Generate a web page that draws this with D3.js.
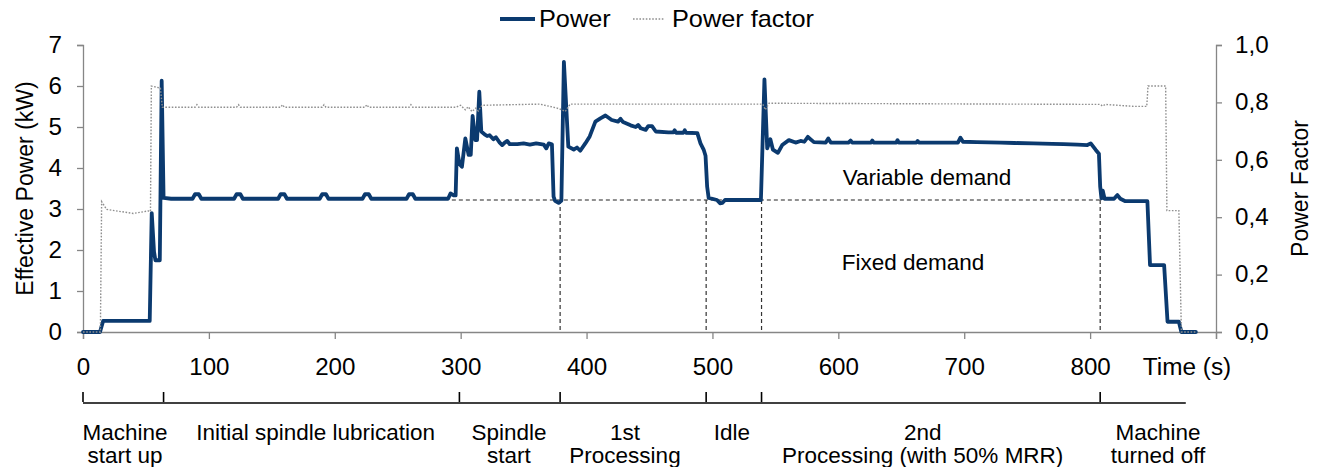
<!DOCTYPE html>
<html>
<head>
<meta charset="utf-8">
<script src="https://cdn.jsdelivr.net/npm/d3@7"></script>
<style>
  body { margin: 0; background: #fff; }
  svg text { font-family: "Liberation Sans", Arial, sans-serif; fill: #000; }
</style>
</head>
<body>
<svg id="chart"></svg>
<script>
const powerColor = '#0b3a6f'; // effective power line
const pfColor = '#8f8f8f';    // power factor, dotted
const axisColor = '#868686';

// effective power (kW), time in seconds
const powerTime = [0, 13.5, 16, 53, 54.6, 56.4, 57.5, 61, 62.5, 64, 70, 87, 89, 92, 94, 120, 122, 125, 127,
  155, 157, 160, 162, 188, 190, 193, 195, 222, 224, 227, 229, 257, 259, 262, 264, 290, 292, 294.5, 296,
  297, 299, 301, 303.7, 306.3, 308, 309.5, 311.6, 313, 314.8, 316.4, 319, 321, 323, 326, 328, 331, 333,
  335, 337, 339, 345, 350, 355, 360, 366, 368, 370, 372.5, 373.8, 375, 377.8, 380, 382, 385.5, 389.8,
  392.4, 395, 399, 402.5, 407, 411, 415, 420, 425, 427, 429, 435, 439, 441, 443, 447, 449, 452, 455,
  465, 469, 470, 471, 477, 478, 479, 488, 490.5, 493, 494.5, 495.8, 497, 503.6, 506, 508, 510, 538.5,
  541.3, 543.5, 546, 548, 552, 555.4, 560.7, 566, 570, 573, 575.8, 578, 580.6, 590, 592, 594, 608,
  609.7, 611, 626, 627, 628, 646, 647, 648, 662, 663, 664, 680, 695, 697, 699, 710, 729, 740, 755, 770,
  779, 790, 797.8, 800.5, 804.5, 807, 808, 809, 810, 811.5, 819, 821.7, 824, 828, 845.5, 847.6, 858.8,
  861.5, 870.5, 872.5, 884];
const powerKW = [0, 0, 0.27, 0.27, 2.9, 1.96, 1.75, 1.75, 6.13, 3.27, 3.25, 3.25, 3.36, 3.36, 3.25, 3.25, 3.36, 3.36, 3.25,
  3.25, 3.36, 3.36, 3.25, 3.25, 3.36, 3.36, 3.25, 3.25, 3.36, 3.36, 3.25, 3.25, 3.36, 3.36, 3.25, 3.25, 3.38, 3.33, 3.33,
  4.48, 4.1, 4.03, 4.72, 4.32, 4.32, 5.27, 4.68, 4.68, 5.86, 4.89, 4.82, 4.78, 4.8, 4.7, 4.75, 4.62, 4.56,
  4.62, 4.66, 4.58, 4.58, 4.6, 4.57, 4.6, 4.57, 4.48, 4.6, 4.58, 3.3, 3.2, 3.15, 3.2, 6.59, 4.52, 4.45,
  4.5, 4.42, 4.6, 4.77, 5.13, 5.21, 5.28, 5.17, 5.13, 5.2, 5.12, 5.04, 5.0, 5.05, 4.97, 4.93, 5.02, 5.02, 4.89,
  4.87, 4.87, 4.92, 4.86, 4.86, 4.92, 4.86, 4.85, 4.6, 4.45, 4.3, 3.54, 3.27, 3.22, 3.14, 3.15, 3.22, 3.22,
  6.16, 4.48, 4.7, 4.45, 4.37, 4.56, 4.68, 4.62, 4.66, 4.64, 4.76, 4.7, 4.63, 4.62, 4.72, 4.62, 4.62,
  4.67, 4.62, 4.62, 4.67, 4.62, 4.62, 4.68, 4.62, 4.62, 4.66, 4.62, 4.62, 4.62, 4.74, 4.64, 4.63, 4.62, 4.61, 4.6, 4.59,
  4.58, 4.57, 4.56, 4.6, 4.44, 4.35, 3.55, 3.26, 3.45, 3.25, 3.25, 3.34, 3.25, 3.19, 3.19, 1.63, 1.63,
  0.25, 0.25, 0, 0];

// power factor
const pfTime = [0, 13.8, 14.8, 18.8, 40, 52, 53.6, 54.3, 61.5, 63, 89, 90.5, 92, 122, 123.5, 125, 157, 158.5, 160,
  190, 191.5, 193, 224, 225.5, 227, 259, 260.5, 262, 296, 300, 303.7, 306, 309, 312, 314, 317, 363, 376.6,
  380, 383, 387, 540, 542, 545, 808, 810, 812, 835, 845, 846, 860, 861, 870.5, 872.5, 884];
const pfValue = [0, 0, 0.454, 0.427, 0.413, 0.422, 0.42, 0.857, 0.85, 0.783, 0.783, 0.792, 0.783, 0.783, 0.792, 0.783, 0.783, 0.792, 0.783,
  0.783, 0.792, 0.783, 0.783, 0.792, 0.783, 0.783, 0.792, 0.783, 0.783, 0.79, 0.774, 0.785, 0.768, 0.78, 0.77, 0.79, 0.794, 0.78,
  0.775, 0.768, 0.794, 0.794, 0.774, 0.797, 0.793, 0.787, 0.793, 0.786, 0.786, 0.857, 0.857, 0.423, 0.423, 0, 0];

const xTicks = [0, 100, 200, 300, 400, 500, 600, 700, 800, 900];
const yTicks = [0, 1, 2, 3, 4, 5, 6, 7];
const pfTicks = [0, 0.2, 0.4, 0.6, 0.8, 1.0];

// fixed demand level and the phase boundaries (s)
const fixedDemand = 3.22;
const fixedStart = 293;
const phaseBounds = [0, 64, 299, 379, 495, 539, 808];
const phaseEnd = 876;
const dashedBounds = [379, 495, 539, 808];
const phaseNames = [
  ['Machine', 'start up'],
  ['Initial spindle lubrication'],
  ['Spindle', 'start'],
  ['1st', 'Processing'],
  ['Idle'],
  ['2nd', 'Processing (with 50% MRR)'],
  ['Machine', 'turned off']
];

const W = 1318, H = 467;
const svg = d3.select('#chart').attr('width', W).attr('height', H);

const x = d3.scaleLinear().domain([0, 900]).range([83, 1216]);
const y = d3.scaleLinear().domain([0, 7]).range([332, 45]);
const yPf = d3.scaleLinear().domain([0, 1]).range([332, 45]);

// stretch text a bit horizontally, the original chart is slightly widened
function widen(sel, k) {
  sel.each(function() {
    const t = d3.select(this);
    const tx = +t.attr('x') || 0, ty = +t.attr('y') || 0;
    t.attr('x', 0).attr('y', 0).attr('transform', `translate(${tx},${ty}) scale(${k},1)`);
  });
}

function styleAxis(g) {
  g.select('.domain').attr('stroke', axisColor).attr('stroke-width', 1.3);
  g.selectAll('.tick line').attr('stroke', axisColor).attr('stroke-width', 1.3);
  g.selectAll('text').attr('font-size', 23).attr('font-family', '"Liberation Sans", Arial, sans-serif').attr('fill', '#000');
}

// x axis
const gx = svg.append('g')
  .attr('transform', `translate(0, ${y(0)})`)
  .call(d3.axisBottom(x).tickValues(xTicks).tickSizeOuter(0).tickSize(7)
    .tickFormat(d => d === 900 ? '' : d));
styleAxis(gx);
gx.selectAll('text').attr('y', 43).attr('dy', 0);
widen(gx.selectAll('text'), 1.05);

// left axis
const gy = svg.append('g')
  .attr('transform', `translate(${x(0)}, 0)`)
  .call(d3.axisLeft(y).tickValues(yTicks).tickSizeOuter(0).tickSize(6)
    .tickFormat(d3.format('d')));
styleAxis(gy);
gy.selectAll('text').attr('x', -21);
widen(gy.selectAll('text'), 1.05);

// right axis
const gr = svg.append('g')
  .attr('transform', `translate(${x(900)}, 0)`)
  .call(d3.axisRight(yPf).tickValues(pfTicks).tickSizeOuter(0).tickSize(6)
    .tickFormat(d => d3.format('.1f')(d).replace('.', ',')));
styleAxis(gr);
gr.selectAll('text').attr('x', 19);
widen(gr.selectAll('text'), 1.05);

// axis titles
svg.append('text')
  .attr('transform', `translate(33, ${(y(0) + y(7)) / 2}) rotate(-90)`)
  .attr('text-anchor', 'middle')
  .attr('font-size', 23)
  .text('Effective Power (kW)');
svg.append('text')
  .attr('transform', `translate(1308, ${(y(0) + y(7)) / 2}) rotate(-90)`)
  .attr('text-anchor', 'middle')
  .attr('font-size', 23)
  .text('Power Factor');
const timeLabel = svg.append('text')
  .attr('x', 1187).attr('y', 375)
  .attr('text-anchor', 'middle')
  .attr('font-size', 23)
  .text('Time (s)');
widen(timeLabel, 1.06);

// fixed demand dashed guides
svg.append('line')
  .attr('x1', x(fixedStart)).attr('x2', x(d3.max(dashedBounds)))
  .attr('y1', y(fixedDemand)).attr('y2', y(fixedDemand))
  .attr('stroke', '#222').attr('stroke-width', 1.2).attr('stroke-dasharray', '4,3');
svg.selectAll('.guide')
  .data(dashedBounds)
  .enter()
  .append('line')
  .attr('class', 'guide')
  .attr('x1', d => x(d)).attr('x2', d => x(d))
  .attr('y1', y(fixedDemand)).attr('y2', y(0))
  .attr('stroke', '#333').attr('stroke-width', 1.2).attr('stroke-dasharray', '4,3');

// power line
const powerData = powerTime.map((t, i) => ({t: t, v: powerKW[i]}));
svg.append('path')
  .datum(powerData)
  .attr('fill', 'none')
  .attr('stroke', powerColor)
  .attr('stroke-width', 3.8)
  .attr('stroke-linejoin', 'round')
  .attr('stroke-linecap', 'round')
  .attr('d', d3.line().x(d => x(d.t)).y(d => y(d.v)));

// power factor line, dotted, drawn on top
const pfData = pfTime.map((t, i) => ({t: t, v: pfValue[i]}));
svg.append('path')
  .datum(pfData)
  .attr('fill', 'none')
  .attr('stroke', pfColor)
  .attr('stroke-width', 1.4)
  .attr('stroke-dasharray', '1.6,1.6')
  .attr('d', d3.line().x(d => x(d.t)).y(d => yPf(d.v)));

// region labels
svg.append('text').attr('x', 927).attr('y', 185).attr('text-anchor', 'middle')
  .attr('font-size', 22.5).text('Variable demand');
svg.append('text').attr('x', 913).attr('y', 270).attr('text-anchor', 'middle')
  .attr('font-size', 22.5).text('Fixed demand');

// legend
const legend = svg.append('g');
legend.append('line').attr('x1', 500).attr('x2', 535).attr('y1', 19).attr('y2', 19)
  .attr('stroke', powerColor).attr('stroke-width', 3.8);
widen(legend.append('text').attr('x', 539).attr('y', 27).attr('font-size', 23).text('Power'), 1.1);
legend.append('line').attr('x1', 633).attr('x2', 665).attr('y1', 19).attr('y2', 19)
  .attr('stroke', pfColor).attr('stroke-width', 1.4).attr('stroke-dasharray', '1.6,1.6');
widen(legend.append('text').attr('x', 672).attr('y', 27).attr('font-size', 23).text('Power factor'), 1.1);

// phase timeline under the chart
const phase = svg.append('g');
phase.append('line')
  .attr('x1', x(0)).attr('x2', x(phaseEnd))
  .attr('y1', 403).attr('y2', 403)
  .attr('stroke', '#000').attr('stroke-width', 1.6);
phase.selectAll('.ptick')
  .data(phaseBounds)
  .enter()
  .append('line')
  .attr('class', 'ptick')
  .attr('x1', d => x(d)).attr('x2', d => x(d))
  .attr('y1', 392).attr('y2', 402)
  .attr('stroke', '#000').attr('stroke-width', 1.6);

const labelX = [125, 315.6, 509, 625, 732, 922.7, 1158];
phaseNames.forEach((lines, i) => {
  const t = phase.append('text')
    .attr('text-anchor', 'middle')
    .attr('font-size', 22.5);
  lines.forEach((s, j) => {
    t.append('tspan').attr('x', labelX[i]).attr('y', 440 + j * 23).text(s);
  });
});
</script>
</body>
</html>
